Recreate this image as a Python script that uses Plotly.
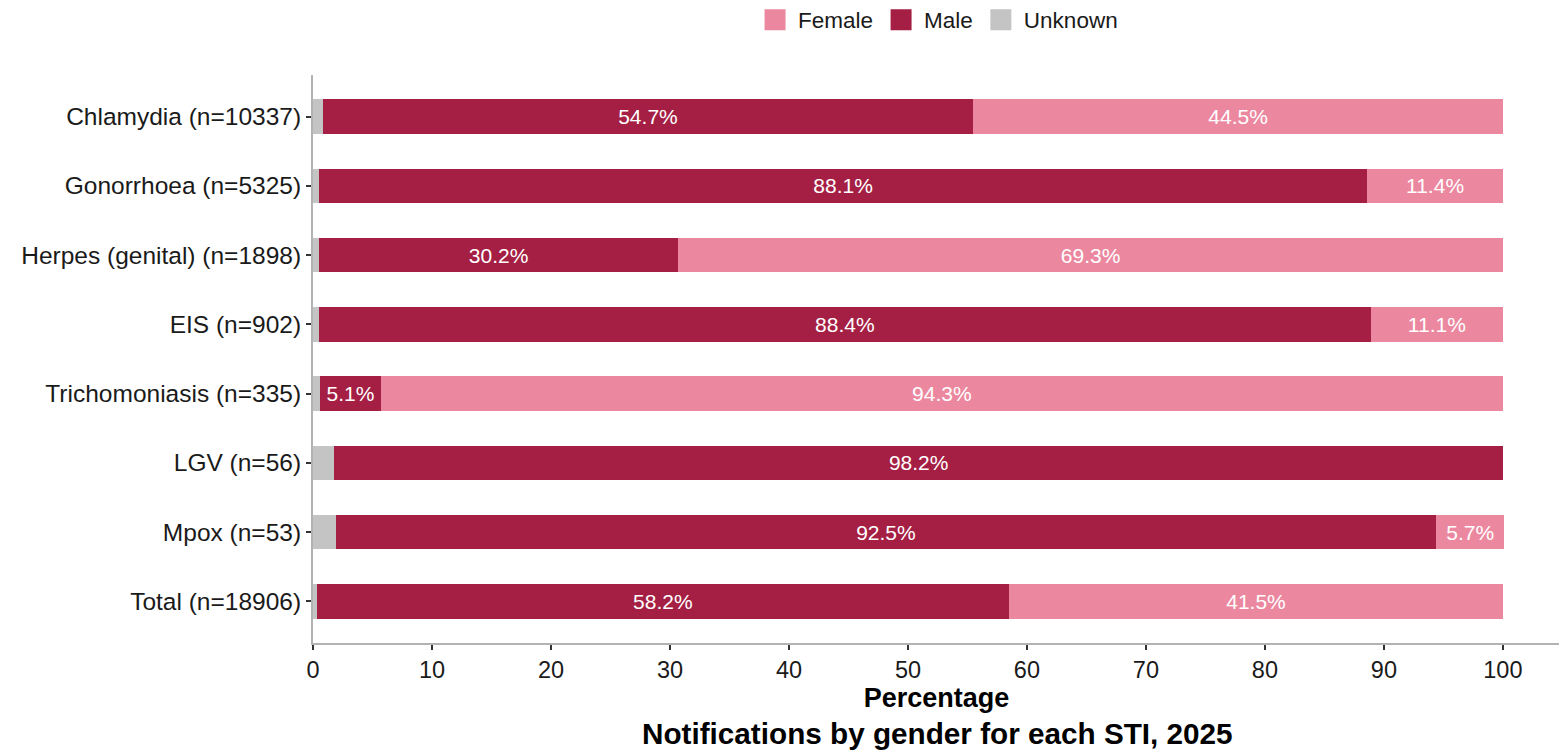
import plotly.graph_objects as go

categories = ["Chlamydia (n=10337)", "Gonorrhoea (n=5325)", "Herpes (genital) (n=1898)",
              "EIS (n=902)", "Trichomoniasis (n=335)", "LGV (n=56)", "Mpox (n=53)", "Total (n=18906)"]
male = [54.7, 88.1, 30.2, 88.4, 5.1, 98.2, 92.5, 58.2]
female = [44.5, 11.4, 69.3, 11.1, 94.3, 0.0, 5.7, 41.5]
unknown = [0.8, 0.5, 0.5, 0.5, 0.6, 1.8, 1.9, 0.3]

FEMALE_C = "#EB88A0"
MALE_C = "#A51F44"
UNK_C = "#C4C4C4"
FONT = "Liberation Sans, Arial"

def labels(vals):
    return [f"{v:.1f}%" if v > 0 else "" for v in vals]

fig = go.Figure()
fig.add_trace(go.Bar(y=categories, x=unknown, orientation="h", name="Unknown",
                     marker=dict(color=UNK_C, line=dict(width=0)), showlegend=False))
fig.add_trace(go.Bar(y=categories, x=male, orientation="h", name="Male",
                     marker=dict(color=MALE_C, line=dict(width=0)), showlegend=False,
                     text=labels(male), textposition="inside", insidetextanchor="middle",
                     textfont=dict(color="white", size=21, family=FONT),
                     constraintext="none"))
fig.add_trace(go.Bar(y=categories, x=female, orientation="h", name="Female",
                     marker=dict(color=FEMALE_C, line=dict(width=0)), showlegend=False,
                     text=labels(female), textposition="inside", insidetextanchor="middle",
                     textfont=dict(color="white", size=21, family=FONT),
                     constraintext="none"))

# legend entries (square keys)
for name, col in [("Female", FEMALE_C), ("Male", MALE_C), ("Unknown", UNK_C)]:
    fig.add_trace(go.Scatter(x=[None], y=[None], mode="markers", name=name,
                             marker=dict(symbol="square", size=16, color=col,
                                         line=dict(color=col, width=6)),
                             showlegend=True))

fig.update_layout(
    barmode="stack",
    bargap=0.5,
    width=1567, height=751,
    margin=dict(l=305, r=15, t=67, b=116, autoexpand=False),
    plot_bgcolor="white", paper_bgcolor="white",
    font=dict(family=FONT, size=22, color="#1a1a1a"),
    legend=dict(orientation="h", xref="container", yref="container",
                x=0.5932, xanchor="center", y=0.984, yanchor="middle",
                font=dict(size=22.5, color="#1a1a1a"), traceorder="normal",
                itemsizing="trace", itemwidth=36),
    xaxis=dict(range=[0, 104.8], tickvals=list(range(0, 101, 10)), showgrid=False,
               showline=True, linecolor="#b3b3b3", linewidth=2, ticks="outside",
               tickcolor="#333333", ticklen=5, tickwidth=1.5, zeroline=False,
               automargin=False,
               tickfont=dict(size=23.5, color="#1a1a1a"),
               title=dict(text="<b>Percentage</b>", font=dict(size=27, color="#000"), standoff=0)),
    yaxis=dict(categoryorder="array", categoryarray=categories[::-1], range=[-0.6, 7.6],
               showgrid=False, showline=True, linecolor="#b3b3b3", linewidth=2,
               ticks="outside", tickcolor="#333333", ticklen=5, tickwidth=1.5,
               automargin=False,
               tickfont=dict(size=24.5, color="#1a1a1a")),
    annotations=[dict(text="<b>Notifications by gender for each STI, 2025</b>",
                      x=0.501, xref="paper", y=-0.1585, yref="paper", xanchor="center",
                      yanchor="middle", showarrow=False, font=dict(size=29.7, color="#000"))],
)

fig.write_html("out.html")
